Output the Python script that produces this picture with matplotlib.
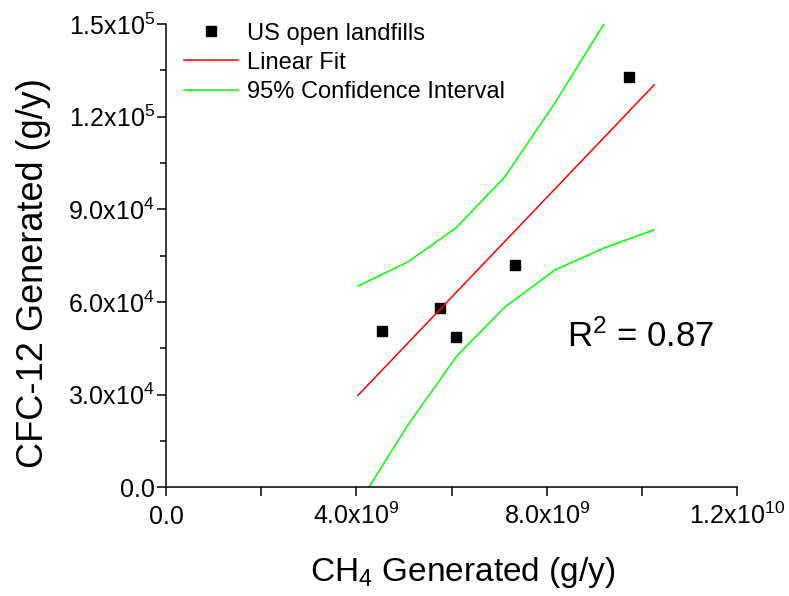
import numpy as np
import matplotlib
matplotlib.use("Agg")
import matplotlib.pyplot as plt
from matplotlib.ticker import MultipleLocator

plt.rcParams['font.family'] = ['Liberation Sans', 'DejaVu Sans']
plt.rcParams['mathtext.fontset'] = 'custom'
plt.rcParams['mathtext.rm'] = 'Liberation Sans'
plt.rcParams['mathtext.it'] = 'Liberation Sans:italic'
plt.rcParams['mathtext.bf'] = 'Liberation Sans:bold'

# US open landfills (CH4 g/y, CFC-12 g/y)
ch4 = [4.54e9, 5.76e9, 6.09e9, 7.34e9, 9.72e9]
cfc12 = [5.05e4, 5.80e4, 4.88e4, 7.19e4, 1.328e5]

# linear fit at its two ends
fit_x = [4.03e9, 10.26e9]
fit_y = [2.97e4, 1.303e5]

# 95% confidence band (Origin draws it as a polyline)
ci_upper_x = [4.035e9, 5.086e9, 6.095e9, 7.125e9, 8.176e9, 9.206e9]
ci_upper_y = [6.52e4, 7.30e4, 8.40e4, 1.006e5, 1.245e5, 1.501e5]
ci_lower_x = [4.035e9, 5.086e9, 6.11e9, 7.125e9, 8.176e9, 9.206e9, 10.26e9]
ci_lower_y = [-5.6e3, 2.02e4, 4.25e4, 5.84e4, 7.04e4, 7.75e4, 8.34e4]

x_ticks = [0, 4e9, 8e9, 1.2e10]
x_tick_labels = ['0.0', '4.0x10$^{9}$', '8.0x10$^{9}$', '1.2x10$^{10}$']
y_ticks = [0, 3e4, 6e4, 9e4, 1.2e5, 1.5e5]
y_tick_labels = ['0.0', '3.0x10$^{4}$', '6.0x10$^{4}$', '9.0x10$^{4}$',
                 '1.2x10$^{5}$', '1.5x10$^{5}$']

r_squared = 0.87


def main():
    fig = plt.figure(figsize=(7.89, 5.96), dpi=100)
    ax = fig.add_axes([0.2104, 0.1824, 0.7237, 0.7773])

    ax.plot(ch4, cfc12, 's', color='black', markersize=7, label='US open landfills')
    ax.plot(fit_x, fit_y, '-', color='#ff0000', lw=1.1, label='Linear Fit')
    ax.plot(ci_upper_x, ci_upper_y, '-', color='#00ff00', lw=1.1,
            label='95% Confidence Interval')
    ax.plot(ci_lower_x, ci_lower_y, '-', color='#00ff00', lw=1.1)

    ax.set_xlim(0, 1.2e10)
    ax.set_ylim(0, 1.5e5)

    for side in ['top', 'right']:
        ax.spines[side].set_visible(False)
    for side in ['left', 'bottom']:
        ax.spines[side].set_linewidth(1.1)

    ax.set_xticks(x_ticks, x_tick_labels)
    ax.set_yticks(y_ticks, y_tick_labels)
    ax.xaxis.set_minor_locator(MultipleLocator(2e9))
    ax.yaxis.set_minor_locator(MultipleLocator(1.5e4))
    ax.tick_params(axis='x', which='major', direction='out', length=6.5,
                   width=1.1, labelsize=18, pad=20)
    ax.tick_params(axis='x', which='minor', direction='out', length=6.5, width=1.1)
    ax.tick_params(axis='y', which='major', direction='out', length=6.5,
                   width=1.1, labelsize=18, pad=1.5)
    ax.tick_params(axis='y', which='minor', direction='out', length=4, width=1.1)
    plt.setp(ax.get_xticklabels(), va='baseline')

    ax.set_xlabel('CH$_{4}$ Generated (g/y)', fontsize=24, va='center')
    ax.xaxis.set_label_coords(0.520, -0.183)
    ax.set_ylabel('CFC-12 Generated (g/y)', fontsize=26, va='center')
    ax.yaxis.set_label_coords(-0.232, 0.4626)

    ax.text(8.43e9, 4.55e4, f'R$^{{2}}$ = {r_squared:.2f}', fontsize=25,
            ha='left', va='baseline')

    ax.legend(loc='upper left', bbox_to_anchor=(0.0315, 1.003), frameon=False,
              fontsize=17, handlelength=2.3, handletextpad=0.38,
              labelspacing=0.3, borderpad=0, borderaxespad=0)

    fig.savefig('out.png', dpi=100)


if __name__ == "__main__":
    main()
